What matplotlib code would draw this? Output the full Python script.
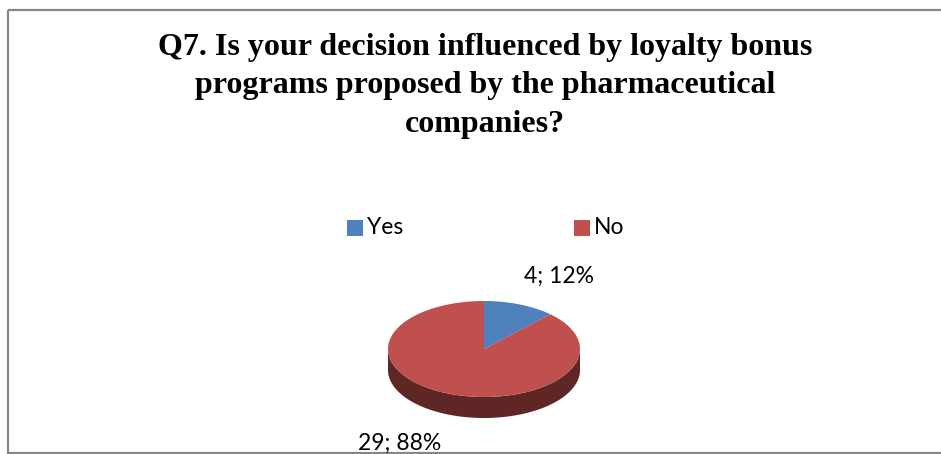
import numpy as np
import matplotlib.pyplot as plt
from matplotlib.patches import Polygon, Rectangle

# survey answers
labels = ["Yes", "No"]
counts = [4, 29]
colors = ["#4F81BD", "#C0504D"]
side_colors = ["#2B4468", "#5E2625"]
title = ("Q7. Is your decision influenced by loyalty bonus\n"
         "programs proposed by the pharmaceutical\n"
         "companies?")


def ellipse_pt(theta, cx, cy, rx, ry, dy=0.0):
    t = np.radians(theta)
    return np.column_stack([cx + rx * np.cos(t), cy - ry * np.sin(t) + dy])


def main():
    fig = plt.figure(figsize=(9.41, 4.54), dpi=100)
    ax = fig.add_axes([0, 0, 1, 1])
    ax.set_xlim(0, 941)
    ax.set_ylim(454, 0)
    ax.axis("off")

    # chart area border
    ax.add_patch(Rectangle((8, 10), 945, 443, fill=False,
                           edgecolor="#868686", linewidth=1.6))

    ax.text(485, 86, title, ha="center", va="center",
            family="Liberation Serif", fontweight="bold", fontsize=23,
            linespacing=1.42)

    # 3D pie: top ellipse plus front wall
    cx, cy, rx, ry, depth = 484, 349, 96, 48, 21
    total = sum(counts)
    start = 90.0
    spans = []
    for v in counts:
        end = start - 360.0 * v / total
        spans.append((start, end))
        start = end

    for (a0, a1), sc in zip(spans, side_colors):
        th = np.linspace(a0, a1, 400)
        th = th[np.sin(np.radians(th)) <= 0]
        if len(th) < 2:
            continue
        top = ellipse_pt(th, cx, cy, rx, ry)
        bot = ellipse_pt(th[::-1], cx, cy, rx, ry, depth)
        ax.add_patch(Polygon(np.vstack([top, bot]), closed=True,
                             facecolor=sc, edgecolor="none"))

    for (a0, a1), c in zip(spans, colors):
        th = np.linspace(a0, a1, 300)
        pts = np.vstack([[cx, cy], ellipse_pt(th, cx, cy, rx, ry)])
        ax.add_patch(Polygon(pts, closed=True, facecolor=c,
                             edgecolor="none"))

    # data labels
    label_pos = [(559, 276), (400, 443)]
    for v, (x, y) in zip(counts, label_pos):
        ax.text(x, y, f"{v}; {round(100 * v / total)}%", ha="center",
                va="center", family="Lato", fontsize=16.5)

    # legend
    leg_x = [347, 574]
    for lab, c, x in zip(labels, colors, leg_x):
        ax.add_patch(Rectangle((x, 220), 16, 16, facecolor=c,
                               edgecolor="none"))
        ax.text(x + 20, 228, lab, ha="left", va="center",
                family="Lato", fontsize=16.5)

    fig.savefig("out.png", dpi=100)


if __name__ == "__main__":
    main()
